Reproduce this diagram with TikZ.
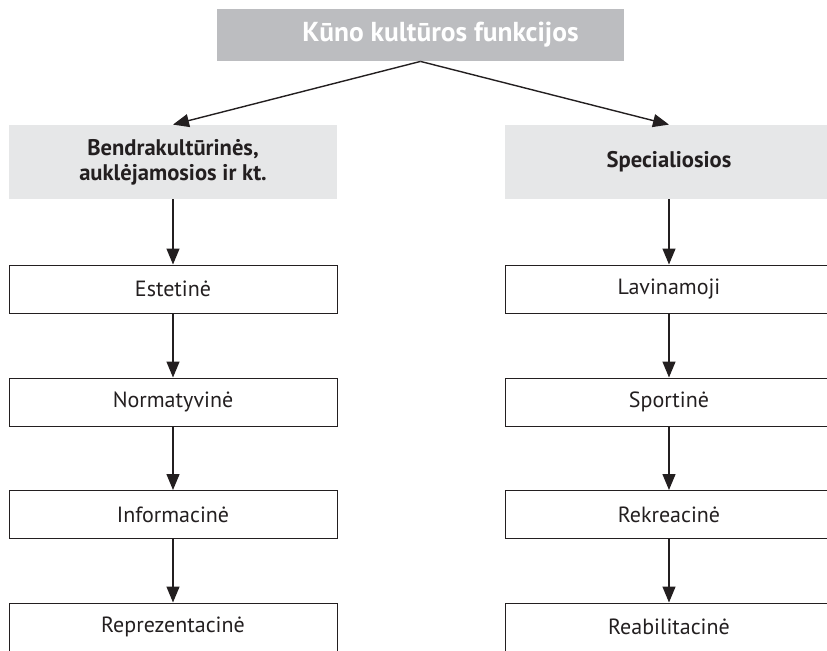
\documentclass[tikz,border=0pt]{standalone}
\usepackage{fontspec}
\setmainfont{PT Sans}
\usetikzlibrary{arrows.meta}
\definecolor{rootgray}{HTML}{BCBDC0}
\definecolor{groupgray}{HTML}{E6E7E8}
\definecolor{inkblack}{HTML}{231F20}
\tikzset{%
  funcnode/.style  = {shape=rectangle, inner sep=0pt, align=center,%
                      text=inkblack, minimum width=164pt},%
  rootnode/.style  = {funcnode, fill=rootgray, text=white, font=\bfseries\fontsize{13.7}{16}\selectfont,%
                      minimum width=203.5pt, minimum height=26pt},%
  groupnode/.style = {funcnode, fill=groupgray, font=\bfseries\fontsize{11.3}{12.4}\selectfont,%
                      minimum height=37pt},%
  itemnode/.style  = {funcnode, draw=inkblack, line width=0.5pt,%
                      font=\fontsize{11}{13}\selectfont, minimum height=24pt},%
  funcarrow/.style = {draw=inkblack, line width=0.7pt,%
                      -{Triangle[length=8pt,width=6.5pt]}}%
}
\begin{document}
\begin{tikzpicture}[x=0.5pt,y=-0.5pt]%
	\useasboundingbox (0,0) rectangle (827,650);
	% top
	\node [rootnode] (root) at (420.5,35) {\hspace*{20pt}K\=uno kult\=uros funkcijos};%
	\node [groupnode] (bendr) at (173,162) {Bendrakult\=urin\.es,\\aukl\.ejamosios ir kt.};%
	\node [groupnode] (spec) at (669,162) {Specialiosios};%
	% left column
	\node [itemnode] (est)  at (173,289) {Estetin\.e};%
	\node [itemnode] (norm) at (173,402) {Normatyvin\.e};%
	\node [itemnode] (info) at (173,514.5) {Informacin\.e};%
	\node [itemnode] (repr) at (173,627) {Reprezentacin\.e};%
	% right column
	\node [itemnode] (lav)   at (669,289) {Lavinamoji};%
	\node [itemnode] (sport) at (669,402) {Sportin\.e};%
	\node [itemnode] (rekr)  at (669,514.5) {Rekreacin\.e};%
	\node [itemnode] (reab)  at (669,627) {Reabilitacin\.e};%
	% connectors
	\draw [funcarrow] (root.south) -- (bendr.north);%
	\draw [funcarrow] (root.south) -- (spec.north);%
	\foreach \a/\b in {bendr/est,est/norm,norm/info,info/repr,%
	                   spec/lav,lav/sport,sport/rekr,rekr/reab}%
		\draw [funcarrow] (\a.south) -- (\b.north);%
\end{tikzpicture}
\end{document}
